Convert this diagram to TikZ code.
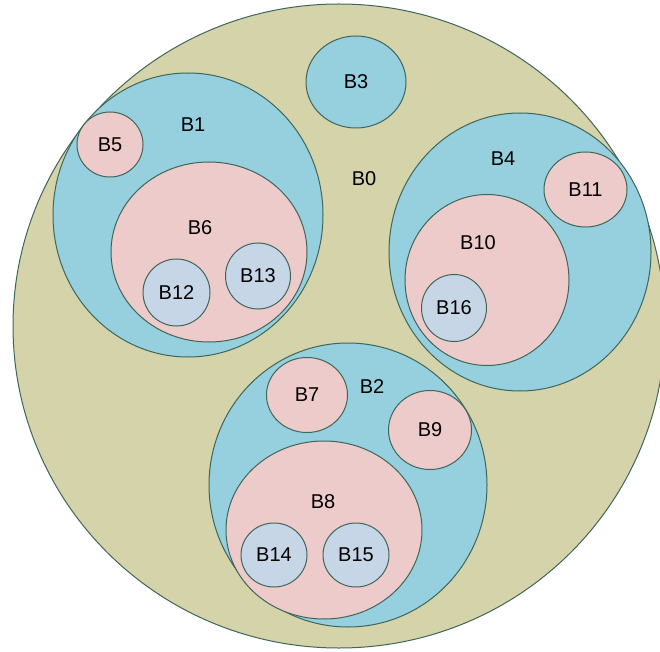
\documentclass[tikz,border=0pt]{standalone}
\usepackage{fontspec}
\setmainfont{Liberation Sans}
\usetikzlibrary{shapes.geometric}

\definecolor{edgecol}{HTML}{3E6659}
\definecolor{rootcol}{HTML}{D4D3AA}
\definecolor{bluecol}{HTML}{96CFDD}
\definecolor{pinkcol}{HTML}{EECBCB}
\definecolor{greycol}{HTML}{C7D6E6}

\tikzset{
  bubble/.style={ellipse, draw=edgecol, line width=0.75pt, inner sep=0pt,
                 font=\fontsize{15}{18}\selectfont},
  root/.style={bubble, fill=rootcol},
  level1/.style={bubble, fill=bluecol},
  level2/.style={bubble, fill=pinkcol},
  level3/.style={bubble, fill=greycol},
  tag/.style={font=\fontsize{15}{18}\selectfont, inner sep=1pt}
}

\begin{document}
\begin{tikzpicture}[x=0.75pt, y=-0.75pt]
  % \draw[step=10, gray!20!white, very thin] (0,0) grid (660,652);
  \fill[white] (0,0) rectangle (660,652);
  \useasboundingbox (0,0) rectangle (660,652);
  \clip (0,0) rectangle (660,652);

  \node[root, minimum width=489pt, minimum height=483pt] at (339, 326) (b0) {};
  \node[tag] at (364, 179) (t0) {B0};

  \node[level1, minimum width=75pt, minimum height=69pt] at (356, 82) (b3) {B3};

  % left branch
  \node[level1, minimum width=202.5pt, minimum height=213pt] at (188, 215) (b1) {};
  \node[tag] at (193, 125) (t1) {B1};
  \node[level2, minimum width=49.5pt, minimum height=48.75pt] at (110, 144.5) (b5) {B5};
  \node[level2, minimum width=147pt, minimum height=135pt] at (209, 252) (b6) {};
  \node[tag] at (200, 228) (t6) {B6};
  \node[level3, minimum width=50.25pt, minimum height=50.25pt] at (176.5, 292.5) (b12) {B12};
  \node[level3, minimum width=48.75pt, minimum height=49.5pt] at (258, 276) (b13) {B13};

  % right branch
  \node[level1, minimum width=196.5pt, minimum height=208.5pt] at (520, 252) (b4) {};
  \node[tag] at (503, 159) (t4) {B4};
  \node[level2, minimum width=62.25pt, minimum height=56.25pt] at (585.5, 189.5) (b11) {B11};
  \node[level2, minimum width=123pt, minimum height=128.25pt] at (487, 280) (b10) {};
  \node[tag] at (478, 243) (t10) {B10};
  \node[level3, minimum width=48.75pt, minimum height=50.25pt] at (454, 308) (b16) {B16};

  % bottom branch
  \node[level1, minimum width=208.5pt, minimum height=213pt] at (348, 485) (b2) {};
  \node[tag] at (372, 387) (t2) {B2};
  \node[level2, minimum width=60.75pt, minimum height=56.25pt] at (307, 395) (b7) {B7};
  \node[level2, minimum width=62.25pt, minimum height=59.25pt] at (430, 430) (b9) {B9};
  \node[level2, minimum width=147pt, minimum height=133.5pt] at (324, 530) (b8) {};
  \node[tag] at (323, 502) (t8) {B8};
  \node[level3, minimum width=49.5pt, minimum height=48pt] at (274, 555) (b14) {B14};
  \node[level3, minimum width=49.5pt, minimum height=48pt] at (356, 555) (b15) {B15};

\end{tikzpicture}
\end{document}
